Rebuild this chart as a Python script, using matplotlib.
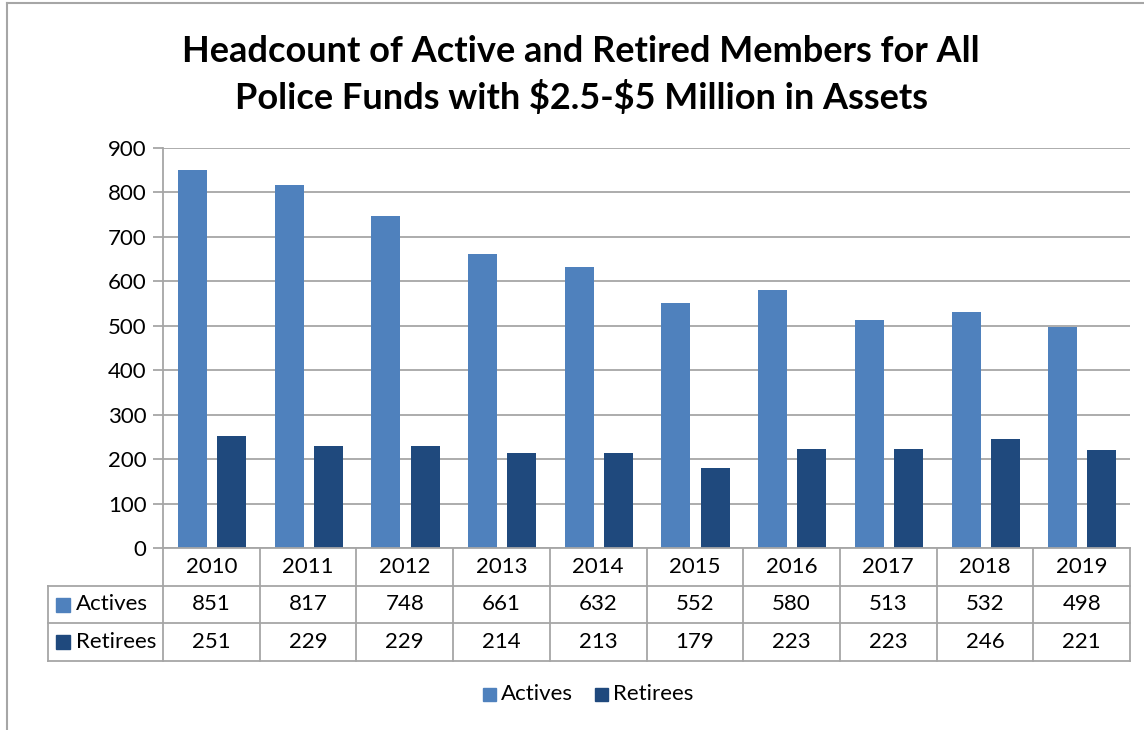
import matplotlib
matplotlib.use("Agg")
import matplotlib.pyplot as plt
from matplotlib.lines import Line2D
from matplotlib.patches import Rectangle

years = ["2010", "2011", "2012", "2013", "2014", "2015", "2016", "2017", "2018", "2019"]
actives = [851, 817, 748, 661, 632, 552, 580, 513, 532, 498]
retirees = [251, 229, 229, 214, 213, 179, 223, 223, 246, 221]
series_names = ["Actives", "Retirees"]
title = "Headcount of Active and Retired Members for All\nPolice Funds with \\$2.5-\\$5 Million in Assets"

C_ACT = "#4F81BD"
C_RET = "#1F497D"
GRID = "#A6A6A6"
FONT = ["Lato", "DejaVu Sans"]
FS = 16

W, H = 1144, 730
fig = plt.figure(figsize=(W / 100, H / 100), dpi=100)
plt.rcParams['font.family'] = FONT

def fx(x):
    return x / W

def fy(y):
    return 1 - y / H

# outer chart border
fig.add_artist(Line2D([fx(7), fx(7)], [fy(3), fy(730)], color=GRID, lw=1.5))
fig.add_artist(Line2D([fx(7), fx(1144)], [fy(3), fy(3)], color=GRID, lw=1.5))

L, R, T, B = 163, 1130, 148, 548
ax = fig.add_axes([fx(L), fy(B), fx(R) - fx(L), fy(T) - fy(B)])
n = len(years)
xs = list(range(n))
bw = 0.30
ax.bar([x - 0.195 for x in xs], actives, width=bw, color=C_ACT, zorder=3)
ax.bar([x + 0.21 for x in xs], retirees, width=bw, color=C_RET, zorder=3)
ax.set_xlim(-0.5, n - 0.5)
ax.set_ylim(0, 900)
ax.set_yticks(range(0, 901, 100))
ax.set_yticklabels([str(v) for v in range(0, 901, 100)], fontsize=FS)
ax.yaxis.grid(True, color=GRID, lw=1.3, zorder=0)
ax.set_xticks([])
for s in ["top", "right", "bottom"]:
    ax.spines[s].set_visible(False)
ax.spines["left"].set_color(GRID)
ax.spines["left"].set_linewidth(1.3)
ax.tick_params(axis="y", length=7, color=GRID, width=1.3, pad=5)

fig.text(0.508, fy(75), title, ha="center", va="center", fontsize=26,
         fontweight="bold", linespacing=1.42)

# data table
rows_y = [548, 586, 623, 661]
gw = (R - L) / n
tl = 48
lw = 1.3
fig.add_artist(Line2D([fx(L), fx(R)], [fy(rows_y[0])] * 2, color=GRID, lw=lw))
for yy in rows_y[1:]:
    fig.add_artist(Line2D([fx(tl), fx(R)], [fy(yy)] * 2, color=GRID, lw=lw))
fig.add_artist(Line2D([fx(tl), fx(tl)], [fy(rows_y[1]), fy(rows_y[3])], color=GRID, lw=lw))
for i in range(n + 1):
    xx = L + i * gw
    fig.add_artist(Line2D([fx(xx), fx(xx)], [fy(rows_y[0]), fy(rows_y[3])], color=GRID, lw=lw))
for i, yr in enumerate(years):
    cx = L + (i + 0.5) * gw
    fig.text(fx(cx), fy((rows_y[0] + rows_y[1]) / 2), yr, ha="center", va="center", fontsize=FS)
    fig.text(fx(cx), fy((rows_y[1] + rows_y[2]) / 2), str(actives[i]), ha="center", va="center", fontsize=FS)
    fig.text(fx(cx), fy((rows_y[2] + rows_y[3]) / 2), str(retirees[i]), ha="center", va="center", fontsize=FS)
for j, (name, col) in enumerate(zip(series_names, [C_ACT, C_RET])):
    yc = (rows_y[j + 1] + rows_y[j + 2]) / 2
    fig.add_artist(Rectangle((fx(56), fy(yc + 7)), fx(14), fy(0) - fy(14), color=col,
                             transform=fig.transFigure))
    fig.text(fx(76), fy(yc), name, ha="left", va="center", fontsize=FS)

# legend
leg_items = [(483, C_ACT, series_names[0]), (595, C_RET, series_names[1])]
for x0, col, name in leg_items:
    fig.add_artist(Rectangle((fx(x0), fy(701)), fx(13), fy(0) - fy(13), color=col,
                             transform=fig.transFigure))
    fig.text(fx(x0 + 18), fy(694), name, ha="left", va="center", fontsize=FS)

fig.savefig("out.png", dpi=100)
